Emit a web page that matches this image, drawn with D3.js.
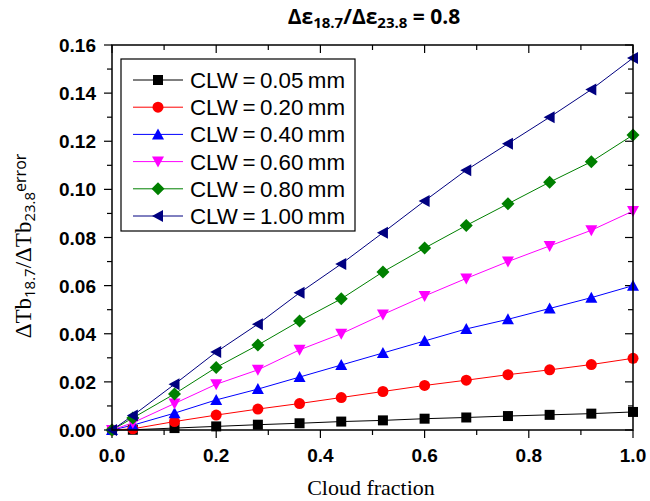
<!DOCTYPE html>
<html>
<head>
<meta charset="utf-8">
<title>Cloud fraction error</title>
<script src="https://cdn.jsdelivr.net/npm/d3@7"></script>
<style>
  body { margin: 0; background: #fff; }
  svg { display: block; }
</style>
</head>
<body>
<script>
// data
var cloudFraction = [0, 0.04, 0.12, 0.20, 0.28, 0.36, 0.44, 0.52, 0.60, 0.68, 0.76, 0.84, 0.92, 1.00];
var clw005 = [0, 0.0001, 0.0008, 0.0015, 0.0022, 0.0028, 0.0035, 0.0040, 0.0047, 0.0052, 0.0058, 0.0063, 0.0068, 0.0075];
var clw020 = [0, 0.0005, 0.0035, 0.0062, 0.0087, 0.0110, 0.0135, 0.0160, 0.0185, 0.0207, 0.0230, 0.0250, 0.0272, 0.0298];
var clw040 = [0, 0.0020, 0.0070, 0.0125, 0.0170, 0.0220, 0.0270, 0.0320, 0.0370, 0.0420, 0.0460, 0.0505, 0.0550, 0.0600];
var clw060 = [0, 0.0030, 0.0110, 0.0190, 0.0250, 0.0333, 0.0400, 0.0480, 0.0557, 0.0630, 0.0700, 0.0765, 0.0830, 0.0910];
var clw080 = [0, 0.0050, 0.0150, 0.0260, 0.0353, 0.0453, 0.0545, 0.0657, 0.0756, 0.0850, 0.0940, 0.1030, 0.1115, 0.1226];
var clw100 = [0, 0.0060, 0.0190, 0.0324, 0.0440, 0.0570, 0.0690, 0.0820, 0.0952, 0.1080, 0.1190, 0.1300, 0.1415, 0.1546];
var seriesNames = ["CLW\u2009=\u20090.05\u2009mm", "CLW\u2009=\u20090.20\u2009mm", "CLW\u2009=\u20090.40\u2009mm",
                   "CLW\u2009=\u20090.60\u2009mm", "CLW\u2009=\u20090.80\u2009mm", "CLW\u2009=\u20091.00\u2009mm"];
var xTicks = [0, 0.2, 0.4, 0.6, 0.8, 1.0];
var yTicks = [0, 0.02, 0.04, 0.06, 0.08, 0.10, 0.12, 0.14, 0.16];

var seriesValues = [clw005, clw020, clw040, clw060, clw080, clw100];
var colors = ["#000000", "#ff0000", "#0000ff", "#ff00ff", "#008000", "#000080"];
var shapes = ["square", "circle", "up", "down", "diamond", "left"];

var W = 650, H = 501;
// plot box ("top" is a reserved window property, so use pX names)
var pLeft = 112, pRight = 633, pTop = 45, pBottom = 430;

var x = d3.scaleLinear().domain([0, 1]).range([pLeft, pRight]);
var y = d3.scaleLinear().domain([0, 0.16]).range([pBottom, pTop]);

var svg = d3.select("body").append("svg").attr("width", W).attr("height", H);

function shapePath(s) {
  if (s == "square") return "M-5,-5h10v10h-10Z";
  if (s == "circle") return "M5.5,0A5.5,5.5 0 1,1 -5.5,0A5.5,5.5 0 1,1 5.5,0Z";
  if (s == "up") return "M0,-6L6,5L-6,5Z";
  if (s == "down") return "M0,6L6,-5L-6,-5Z";
  if (s == "diamond") return "M0,-6.5L6.5,0L0,6.5L-6.5,0Z";
  return "M-6,0L5,-6L5,6Z"; // left
}

// major/minor ticks: outward on left/bottom, inward on top/right
var minorX = d3.range(0, 1.0001, 0.1);
var minorY = d3.range(0, 0.16001, 0.01);
var tk = svg.append("g").attr("stroke", "#000").attr("stroke-width", 1.2);
minorX.forEach(function(v, i) {
  var major = i % 2 == 0;
  tk.append("line").attr("x1", x(v)).attr("x2", x(v)).attr("y1", pBottom).attr("y2", pBottom + (major ? 8 : 5));
  tk.append("line").attr("x1", x(v)).attr("x2", x(v)).attr("y1", pTop).attr("y2", pTop + (major ? 8 : 5));
});
minorY.forEach(function(v, i) {
  var major = i % 2 == 0;
  tk.append("line").attr("y1", y(v)).attr("y2", y(v)).attr("x1", pLeft).attr("x2", pLeft - (major ? 8 : 5));
  tk.append("line").attr("y1", y(v)).attr("y2", y(v)).attr("x1", pRight).attr("x2", pRight - (major ? 8 : 5));
});

// tick labels
svg.append("g").selectAll("text").data(xTicks).enter().append("text")
  .attr("x", function(d) { return x(d); }).attr("y", 462)
  .attr("text-anchor", "middle")
  .attr("font-family", "Liberation Sans, Arial, sans-serif").attr("font-weight", "bold").attr("font-size", 19)
  .text(function(d) { return d3.format(".1f")(d); });
svg.append("g").selectAll("text").data(yTicks).enter().append("text")
  .attr("x", 96).attr("y", function(d) { return y(d) + 7; })
  .attr("text-anchor", "end")
  .attr("font-family", "Liberation Sans, Arial, sans-serif").attr("font-weight", "bold").attr("font-size", 19)
  .text(function(d) { return d3.format(".2f")(d); });

// series
var line = d3.line().x(function(d) { return x(d[0]); }).y(function(d) { return y(d[1]); });
seriesValues.forEach(function(vals, k) {
  var pts = cloudFraction.map(function(c, i) { return [c, vals[i]]; });
  svg.append("path").datum(pts).attr("d", line)
    .attr("fill", "none").attr("stroke", colors[k]).attr("stroke-width", 1);
});
seriesValues.forEach(function(vals, k) {
  var pts = cloudFraction.map(function(c, i) { return [c, vals[i]]; });
  svg.append("g").selectAll("path").data(pts).enter().append("path")
    .attr("transform", function(d) { return "translate(" + x(d[0]) + "," + y(d[1]) + ")"; })
    .attr("d", shapePath(shapes[k]))
    .attr("fill", colors[k]);
});

// frame
svg.append("rect").attr("x", pLeft).attr("y", pTop).attr("width", pRight - pLeft).attr("height", pBottom - pTop)
  .attr("fill", "none").attr("stroke", "#000").attr("stroke-width", 1.5);

// legend
var lg = svg.append("g");
lg.append("rect").attr("x", 121).attr("y", 59).attr("width", 234).attr("height", 172)
  .attr("fill", "#fff").attr("stroke", "#000").attr("stroke-width", 1.2);
seriesNames.forEach(function(name, k) {
  var ly = 80 + k * 27.2;
  lg.append("line").attr("x1", 133).attr("x2", 183).attr("y1", ly).attr("y2", ly)
    .attr("stroke", colors[k]).attr("stroke-width", 1);
  lg.append("path").attr("transform", "translate(158," + ly + ")").attr("d", shapePath(shapes[k])).attr("fill", colors[k]);
  lg.append("text").attr("x", 190).attr("y", ly + 8)
    .attr("font-family", "Liberation Sans, Arial, sans-serif").attr("font-size", 22)
    .attr("textLength", 155).attr("lengthAdjust", "spacingAndGlyphs")
    .text(name);
});

// title
var t = svg.append("text").attr("x", 374).attr("y", 24).attr("text-anchor", "middle")
  .attr("font-family", "Open Sans, sans-serif").attr("font-weight", "bold").attr("font-size", 21);
t.append("tspan").text("\u0394\u03b5");
t.append("tspan").attr("font-size", 15).attr("dy", 4).text("18.7");
t.append("tspan").attr("dy", -4).text("/\u0394\u03b5");
t.append("tspan").attr("font-size", 15).attr("dy", 4).text("23.8");
t.append("tspan").attr("dy", -4).text(" = 0.8");

// axis titles
svg.append("text").attr("x", 371).attr("y", 495).attr("text-anchor", "middle")
  .attr("font-family", "Liberation Serif, Times New Roman, serif").attr("font-size", 22)
  .text("Cloud fraction");
var yl = svg.append("text").attr("transform", "translate(31,246) rotate(-90)").attr("text-anchor", "middle")
  .attr("font-family", "Liberation Serif, Times New Roman, serif").attr("font-size", 23);
yl.append("tspan").text("\u0394Tb");
yl.append("tspan").attr("font-family", "Open Sans, sans-serif").attr("font-size", 15).attr("dy", 4).text("18.7");
yl.append("tspan").attr("dy", -4).text("/\u0394Tb");
yl.append("tspan").attr("font-family", "Open Sans, sans-serif").attr("font-size", 15).attr("dy", 4).text("23.8");
yl.append("tspan").attr("font-family", "Open Sans, sans-serif").attr("font-size", 16).attr("dy", -9).text("error");
</script>
</body>
</html>
